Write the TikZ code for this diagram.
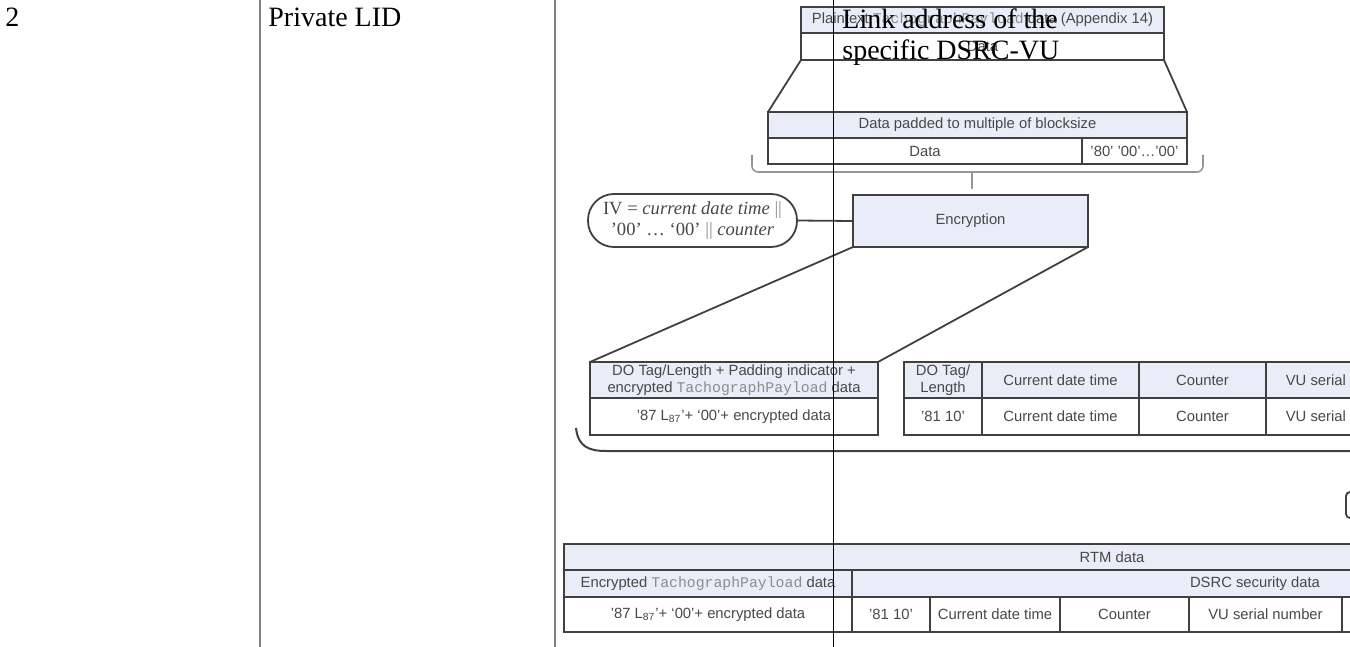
\documentclass[tikz,border=0pt]{standalone}
\usepackage{fontspec}
\setmainfont{Liberation Serif}
\setsansfont{Liberation Sans}
\setmonofont{Liberation Mono}
\usetikzlibrary{positioning}

\definecolor{boxfill}{RGB}{233,237,247}
\definecolor{boxline}{RGB}{64,64,64}
\definecolor{txtgray}{RGB}{72,72,72}
\definecolor{monogray}{RGB}{140,140,140}
\definecolor{bracegray}{RGB}{150,150,150}
\definecolor{tabgray}{RGB}{128,128,128}

\newcommand{\payload}[1]{{\ttfamily\color{monogray}#1}}

\begin{document}
\begin{tikzpicture}[
  x=0.5pt, y=-0.5pt,
  hdr/.style={rectangle, draw=boxline, fill=boxfill, line width=0.9pt, inner sep=0pt, outer sep=0pt,
    text=txtgray, font=\sffamily\fontsize{7.4}{8.6}\selectfont, align=center},
  cell/.style={hdr, fill=white},
  ivbox/.style={rectangle, draw=boxline, fill=white, line width=0.9pt, rounded corners=13pt, inner sep=0pt,
    outer sep=0pt, text=txtgray, font=\rmfamily\fontsize{9.3}{10.6}\selectfont, align=center},
  conn/.style={draw=boxline, line width=0.9pt},
  brace/.style={draw=bracegray, line width=0.8pt, rounded corners=3pt},
  bigbrace/.style={draw=boxline, line width=1pt},
  tabline/.style={draw=tabgray, line width=1pt},
  doctext/.style={font=\rmfamily\fontsize{14}{15.5}\selectfont, inner sep=0pt, align=left}
]
\useasboundingbox (0,0) rectangle (1350,647);
\clip (0,0) rectangle (1350,647);

% Plaintext and padded data
\node[hdr, anchor=north west, minimum width=181.5pt, minimum height=13pt] (plain) at (801,7)
  {Plaintext \payload{TachographPayload} data (Appendix 14)};
\node[cell, below=0pt of plain, minimum width=181.5pt, minimum height=13.5pt] (plaindata) {Data};
\node[hdr, anchor=north west, minimum width=209.5pt, minimum height=13pt] (padhdr) at (768,112)
  {Data padded to multiple of blocksize};
\node[cell, anchor=north west, minimum width=157pt, minimum height=13pt] (data) at (768,138) {Data};
\node[cell, right=0pt of data, minimum width=52.5pt, minimum height=13pt] (pad) {'80' '00'\ldots'00'};

% Encryption
\node[hdr, anchor=north west, minimum width=117.5pt, minimum height=26pt] (enc) at (853,195) {Encryption};
\node[ivbox, anchor=north west, minimum width=104.5pt, minimum height=26.5pt] (iv) at (588,194)
  {IV = \textit{current date time} \textcolor{monogray}{||}\\ ’00’ \ldots{} ‘00’ \textcolor{monogray}{||} \textit{counter}};

% Encrypted payload and DSRC security data
\node[hdr, anchor=north west, minimum width=144pt, minimum height=18pt] (tagpay) at (590,362)
  {DO Tag/Length + Padding indicator +\\ encrypted \payload{TachographPayload} data};
\node[cell, below=0pt of tagpay, minimum width=144pt, minimum height=18.5pt] (encdata)
  {'87 L\textsubscript{87}'+ `00'+ encrypted data};
\node[hdr, anchor=north west, minimum width=39pt, minimum height=18pt] (dotag) at (904,362) {DO Tag/\\ Length};
\node[hdr, right=0pt of dotag, minimum width=78.5pt, minimum height=18pt] (cdt) {Current date time};
\node[hdr, right=0pt of cdt, minimum width=63.5pt, minimum height=18pt] (ctr) {Counter};
\node[hdr, right=0pt of ctr, minimum width=77pt, minimum height=18pt] (vusn) {VU serial number};
\node[cell, below=0pt of dotag, minimum width=39pt, minimum height=18.5pt] (tagval) {'81 10'};
\node[cell, below=0pt of cdt, minimum width=78.5pt, minimum height=18.5pt] (cdtval) {Current date time};
\node[cell, below=0pt of ctr, minimum width=63.5pt, minimum height=18.5pt] (ctrval) {Counter};
\node[cell, below=0pt of vusn, minimum width=77pt, minimum height=18.5pt] (vusnval) {VU serial number};
\node[cell, anchor=north west, minimum width=37pt, minimum height=13pt, rounded corners=2pt] (nextbox) at (1346,492) {};

% RTM data
\node[hdr, anchor=north west, minimum width=548pt, minimum height=13pt] (rtm) at (564,544) {RTM data};
\node[hdr, below=0pt of rtm.south west, anchor=north west, minimum width=144pt, minimum height=13.5pt] (rtmpay)
  {Encrypted \payload{TachographPayload} data};
\node[hdr, right=0pt of rtmpay, minimum width=403pt, minimum height=13.5pt] (rtmsec) {DSRC security data};
\node[cell, below=0pt of rtmpay, minimum width=144pt, minimum height=17.5pt] (rtmenc)
  {'87 L\textsubscript{87}'+ `00'+ encrypted data};
\node[cell, right=0pt of rtmenc, minimum width=39pt, minimum height=17.5pt] (rtmtag) {'81 10'};
\node[cell, right=0pt of rtmtag, minimum width=65pt, minimum height=17.5pt] (rtmcdt) {Current date time};
\node[cell, right=0pt of rtmcdt, minimum width=64.5pt, minimum height=17.5pt] (rtmctr) {Counter};
\node[cell, right=0pt of rtmctr, minimum width=76.5pt, minimum height=17.5pt] (rtmvu) {VU serial number};
\node[cell, right=0pt of rtmvu, minimum width=40pt, minimum height=17.5pt] (rtmrest) {};

% Connectors and braces
\draw[conn] (plaindata.south west) -- (padhdr.north west);
\draw[conn] (plaindata.south east) -- (padhdr.north east);
\draw[conn] (iv.east) -- (enc.west);
\draw[conn] (enc.south west) -- (tagpay.north west);
\draw[conn] (enc.south east) -- (tagpay.north east);
\draw[brace] (752,155) -- (752,172) -- (1203,172) -- (1203,155);
\draw[brace] (972,172) -- (972,189);
\draw[bigbrace] (576,428) .. controls (578,446) and (588,451) .. (606,451) -- (1360,451);

% Table of the document
\draw[tabline] (260,0) -- (260,647);
\draw[tabline] (555,0) -- (555,647);
\draw[black, line width=0.5pt] (833,0) -- (833,647);
\node[doctext, anchor=base west] (num) at (5,27) {2};
\node[doctext, anchor=base west] (lid) at (268,27) {Private LID};
\node[doctext, anchor=base west] (link) at (842,60) {Link address of the\\ specific DSRC-VU};

\end{tikzpicture}
\end{document}
